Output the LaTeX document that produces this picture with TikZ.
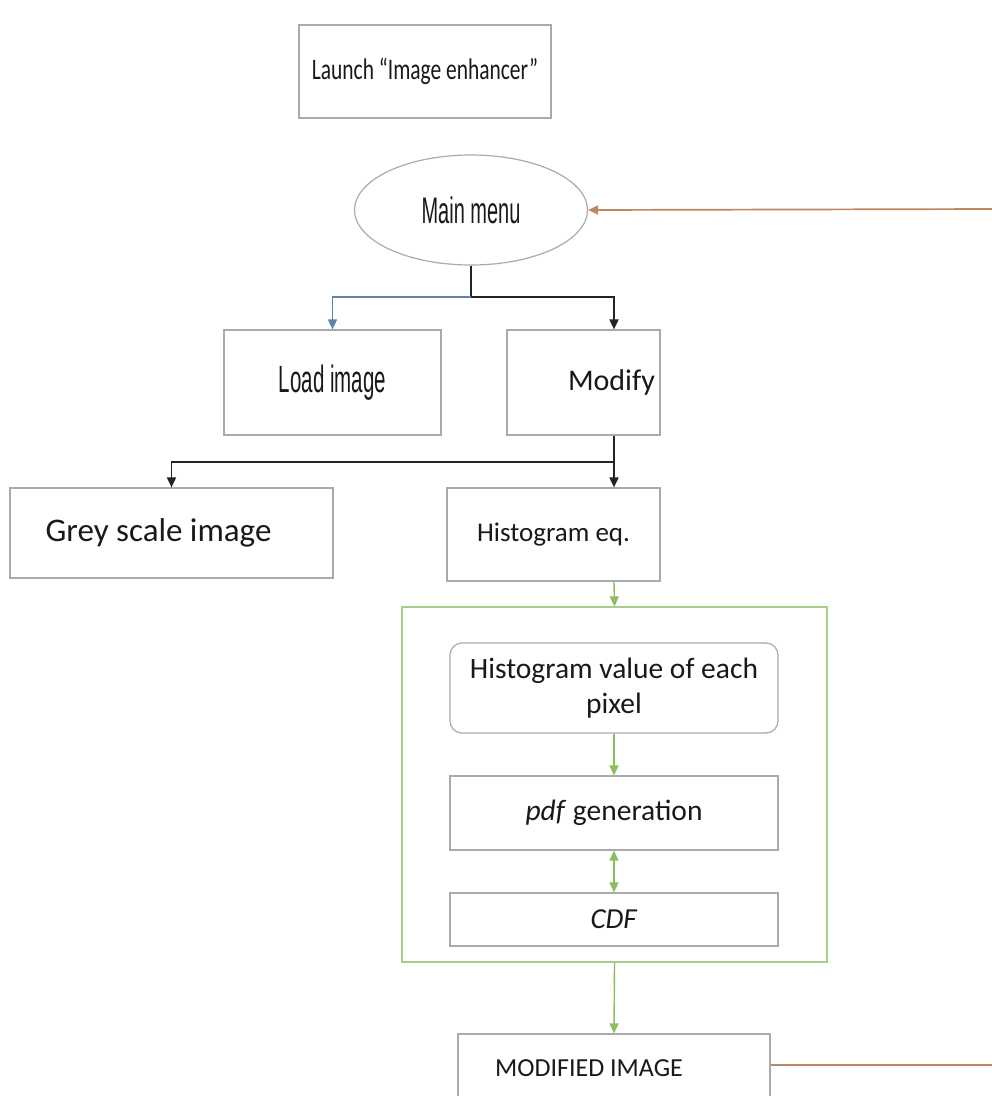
\documentclass[tikz,border=0pt]{standalone}
\usepackage{fontspec}
\setmainfont{Carlito}
\newfontfamily\condfont[FakeStretch=0.54]{Liberation Sans}
\newfontfamily\narrowcarlito[FakeStretch=0.72]{Carlito}
\usetikzlibrary{arrows.meta,shapes.geometric,calc}
\definecolor{boxgrey}{RGB}{170,170,170}
\definecolor{linedark}{RGB}{35,35,35}
\definecolor{lineblue}{RGB}{95,130,170}
\definecolor{linegreen}{RGB}{140,190,95}
\definecolor{contgreen}{RGB}{170,205,140}
\definecolor{lineorange}{RGB}{190,135,95}
\definecolor{textc}{RGB}{25,25,25}
\tikzset{
  box/.style={draw=boxgrey, line width=1.2pt, rectangle, inner sep=0pt, align=center, text=textc},
  ellbox/.style={draw=boxgrey, line width=1.2pt, ellipse, inner sep=0pt, align=center, text=textc},
  tip/.style={-{Triangle[width=9pt,length=10pt]}},
  dtip/.style={{Triangle[width=9pt,length=10pt]}-{Triangle[width=9pt,length=10pt]}},
  dark/.style={draw=linedark, line width=1.8pt},
  bluel/.style={draw=lineblue, line width=1.6pt},
  greenl/.style={draw=linegreen, line width=1.4pt},
  orangel/.style={draw=lineorange, line width=1.7pt}
}
\begin{document}
\begin{tikzpicture}[x=1pt,y=-1pt]
\useasboundingbox (0,0) rectangle (992,1096);
\fill[white] (0,0) rectangle (992,1096);
% nodes
\node[box, minimum width=252pt, minimum height=93pt, font=\narrowcarlito\fontsize{29.8}{32}\selectfont] (launch) at (425,71.5) {Launch “Image enhancer”};
\node[ellbox, minimum width=233pt, minimum height=110pt, font=\condfont\fontsize{37}{40}\selectfont] (menu) at (471,210) {Main menu};
\node[box, minimum width=217pt, minimum height=105pt, font=\condfont\fontsize{38}{40}\selectfont] (load) at (332.5,382.5) {Load image};
\node[box, minimum width=153pt, minimum height=105pt, font=\fontsize{30}{32}\selectfont] (modify) at (583.5,382.5) {\hspace*{56pt}Modify};
\node[box, minimum width=323pt, minimum height=90pt, font=\fontsize{33}{36}\selectfont] (grey) at (171.5,533) {Grey scale image\hspace*{26pt}};
\node[box, minimum width=213pt, minimum height=93pt, font=\fontsize{27}{30}\selectfont] (histeq) at (553.5,534.5) {Histogram eq.};
\node[draw=contgreen, line width=1.3pt, rectangle, minimum width=425pt, minimum height=355pt] (cont) at (614.5,784.5) {};
\node[box, rounded corners=12pt, minimum width=328pt, minimum height=90pt, font=\fontsize{29.5}{35}\selectfont] (histval) at (614,688) {Histogram value of each\\pixel};
\node[box, minimum width=328pt, minimum height=74pt, font=\fontsize{29.5}{32}\selectfont] (pdf) at (614,813) {\textit{pdf} generation};
\node[box, minimum width=328pt, minimum height=53pt, font=\fontsize{29}{32}\selectfont] (cdf) at (614,919.5) {\textit{CDF}};
\node[box, minimum width=312pt, minimum height=72pt, font=\fontsize{26}{30}\selectfont] (modimg) at (614,1070) {\raisebox{3pt}{MODIFIED IMAGE}\hspace*{50pt}};
% helper coordinates
\coordinate (mx) at (614,0);
\coordinate (j1) at (471,297);
\coordinate (j2) at (614,462);
\coordinate (rtop) at (992,209);
\coordinate (rbot) at (992,1065);
% connectors
\draw[dark] (menu.south) -- (j1);
\draw[bluel, tip] (j1) -| (load.north);
\draw[dark, tip] (j1) -| (mx |- modify.north);
\draw[dark] (mx |- modify.south) -- (j2);
\draw[dark, tip] (j2) -| (grey.north);
\draw[dark, tip] (j2) -- (mx |- histeq.north);
\draw[greenl, tip] (mx |- histeq.south) -- (cont.north);
\draw[greenl, tip] (histval.south) -- (pdf.north);
\draw[greenl, dtip] (pdf.south) -- (cdf.north);
\draw[greenl, tip] (cont.south) -- (modimg.north);
\draw[orangel, tip] (rtop) -- (menu.east);
\draw[orangel] (modimg.east |- rbot) -- (rbot);
\end{tikzpicture}
\end{document}
